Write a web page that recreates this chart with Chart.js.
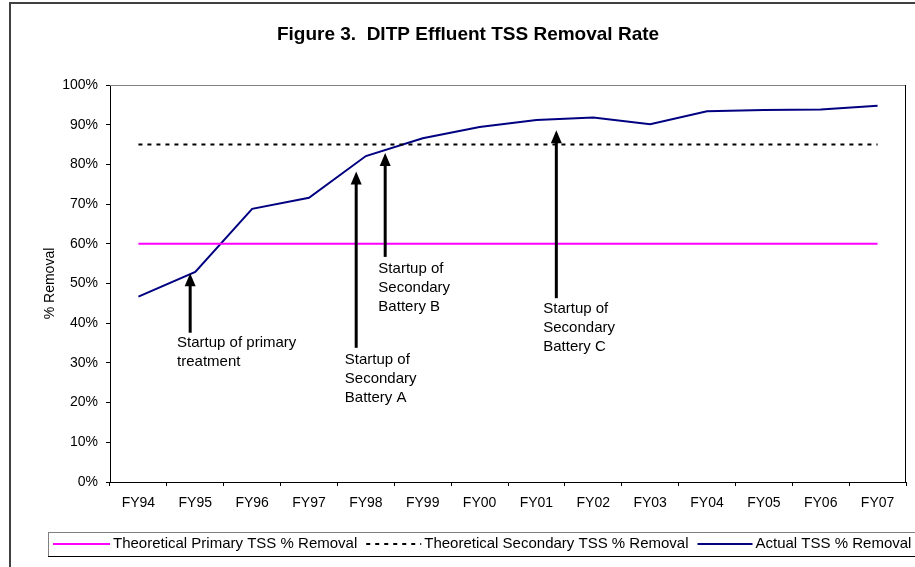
<!DOCTYPE html>
<html>
<head>
<meta charset="utf-8">
<script src="https://cdn.jsdelivr.net/npm/chart.js@4/dist/chart.umd.min.js"></script>
<style>
html,body{margin:0;padding:0;background:#fff;}
#wrap{width:915px;height:567px;position:relative;}
</style>
</head>
<body>
<div id="wrap"><canvas id="c" width="915" height="567"></canvas></div>
<script>
const FONT = '"Liberation Sans", Arial, Helvetica, sans-serif';

const titleText = 'Figure 3.  DITP Effluent TSS Removal Rate';
const yAxisTitle = '% Removal';
const categories = ['FY94','FY95','FY96','FY97','FY98','FY99','FY00','FY01','FY02','FY03','FY04','FY05','FY06','FY07'];
const yTickValues = [0,10,20,30,40,50,60,70,80,90,100];

const seriesLabels = ['Theoretical Primary TSS % Removal','Theoretical Secondary TSS % Removal','Actual TSS % Removal'];
const primaryTheoretical   = [60,60,60,60,60,60,60,60,60,60,60,60,60,60];
const secondaryTheoretical = [85,85,85,85,85,85,85,85,85,85,85,85,85,85];
const actualRemoval        = [46.7,52.9,68.8,71.6,82.1,86.6,89.4,91.2,91.8,90.1,93.4,93.7,93.8,94.8];

// annotation arrows, in data coordinates (category index, % value)
const noteLines = [
  ['Startup of primary','treatment'],
  ['Startup of','Secondary','Battery A'],
  ['Startup of','Secondary','Battery B'],
  ['Startup of','Secondary','Battery C']
];
const noteArrowX = [0.91, 3.83, 4.34, 7.35];
const noteTipY   = [52.6, 78.2, 82.9, 88.6];
const noteTailY  = [37.6, 33.8, 56.7, 46.3];
const noteTextX  = [0.68, 3.63, 4.22, 7.12];
const noteTextY  = [35.1, 30.8, 53.7, 43.6];

const decor = {
  id: 'decor',
  afterDatasetsDraw(chart) {
    const ctx = chart.ctx, xs = chart.scales.x, ys = chart.scales.y, a = chart.chartArea;
    ctx.save();
    // plot area border: top gray, right black
    ctx.lineWidth = 1;
    ctx.strokeStyle = '#808080';
    ctx.beginPath(); ctx.moveTo(a.left, Math.round(a.top) + 0.5); ctx.lineTo(a.right, Math.round(a.top) + 0.5); ctx.stroke();
    ctx.strokeStyle = '#000';
    ctx.beginPath(); ctx.moveTo(Math.round(a.right) - 0.5, a.top); ctx.lineTo(Math.round(a.right) - 0.5, a.bottom); ctx.stroke();

    // annotations
    ctx.fillStyle = '#000';
    ctx.strokeStyle = '#000';
    ctx.font = '15px ' + FONT;
    ctx.textAlign = 'left';
    ctx.textBaseline = 'middle';
    for (let i = 0; i < noteLines.length; i++) {
      const x = xs.getPixelForValue(noteArrowX[i]);
      const tip = ys.getPixelForValue(noteTipY[i]);
      const tail = ys.getPixelForValue(noteTailY[i]);
      const headH = 13, headW = 11;
      ctx.lineWidth = 3;
      ctx.beginPath(); ctx.moveTo(x, tail); ctx.lineTo(x, tip + headH - 1); ctx.stroke();
      ctx.beginPath();
      ctx.moveTo(x, tip); ctx.lineTo(x - headW / 2, tip + headH); ctx.lineTo(x + headW / 2, tip + headH);
      ctx.closePath(); ctx.fill();
      const tx = xs.getPixelForValue(noteTextX[i]);
      let ty = ys.getPixelForValue(noteTextY[i]);
      noteLines[i].forEach((ln, k) => ctx.fillText(ln, tx, ty + k * 19));
    }
    ctx.restore();
  },
  afterDraw(chart) {
    const ctx = chart.ctx, a = chart.chartArea;
    ctx.save();
    // outer chart border
    ctx.strokeStyle = '#404040';
    ctx.lineWidth = 2;
    ctx.strokeRect(10, 3, 1000, 1000);

    // title
    ctx.fillStyle = '#000';
    ctx.font = 'bold 19px ' + FONT;
    ctx.textAlign = 'center';
    ctx.textBaseline = 'alphabetic';
    ctx.fillText(titleText, 468, 40);

    // y axis title
    ctx.font = '14px ' + FONT;
    ctx.save();
    ctx.translate(50, (a.top + a.bottom) / 2);
    ctx.rotate(-Math.PI / 2);
    ctx.textAlign = 'center';
    ctx.textBaseline = 'middle';
    ctx.fillText(yAxisTitle, 0, 0);
    ctx.restore();

    // legend
    const top = 532, bottom = 556, left = 48;
    ctx.fillStyle = '#fff';
    ctx.fillRect(left, top, 1000, bottom - top);
    ctx.lineWidth = 1;
    ctx.strokeStyle = '#808080';
    ctx.strokeRect(left + 0.5, top + 0.5, 1000, bottom - top);
    ctx.strokeStyle = '#000';
    ctx.beginPath(); ctx.moveTo(left, bottom + 0.5); ctx.lineTo(1000, bottom + 0.5); ctx.stroke();
    ctx.font = '15px ' + FONT;
    ctx.textAlign = 'left';
    ctx.textBaseline = 'middle';
    const cy = (top + bottom) / 2;
    const sampleLen = [57, 55, 55];
    let x = 53;
    chart.data.datasets.forEach((ds, i) => {
      ctx.save();
      ctx.strokeStyle = ds.borderColor;
      ctx.lineWidth = ds.borderWidth;
      ctx.setLineDash(ds.borderDash || []);
      ctx.beginPath(); ctx.moveTo(x, cy); ctx.lineTo(x + sampleLen[i], cy); ctx.stroke();
      ctx.restore();
      x += sampleLen[i] + 3;
      ctx.fillStyle = '#000';
      ctx.fillText(ds.label, x, cy);
      x += ctx.measureText(ds.label).width + 9;
    });
    ctx.restore();
  }
};

new Chart(document.getElementById('c'), {
  type: 'line',
  data: {
    labels: categories,
    datasets: [
      { label: seriesLabels[0], data: primaryTheoretical, borderColor: '#FF00FF', borderWidth: 2, pointRadius: 0, fill: false },
      { label: seriesLabels[1], data: secondaryTheoretical, borderColor: '#000000', borderWidth: 2, borderDash: [4,5], pointRadius: 0, fill: false },
      { label: seriesLabels[2], data: actualRemoval, borderColor: '#000080', borderWidth: 2, pointRadius: 0, fill: false }
    ]
  },
  options: {
    responsive: false,
    animation: false,
    devicePixelRatio: 1,
    layout: { padding: { top: 85, right: 9, left: 0, bottom: 0 } },
    plugins: { legend: { display: false }, title: { display: false }, tooltip: { enabled: false } },
    elements: { line: { tension: 0 }, point: { radius: 0 } },
    scales: {
      x: {
        offset: true,
        grid: { offset: true, drawOnChartArea: false, drawTicks: true, tickLength: 4, color: '#000' },
        border: { color: '#000', width: 1 },
        ticks: { font: { size: 14, family: FONT }, color: '#000', padding: 9, maxRotation: 0, autoSkip: false },
        afterFit(s) { s.height = 85; }
      },
      y: {
        min: 0, max: 100,
        afterBuildTicks(s) { s.ticks = yTickValues.map(v => ({ value: v })); },
        grid: { drawOnChartArea: false, drawTicks: true, tickLength: 4, color: '#000' },
        border: { color: '#000', width: 1 },
        ticks: { font: { size: 14, family: FONT }, color: '#000', padding: 8, callback: v => v + '%' },
        afterFit(s) { s.width = 110; }
      }
    }
  },
  plugins: [decor]
});
</script>
</body>
</html>
